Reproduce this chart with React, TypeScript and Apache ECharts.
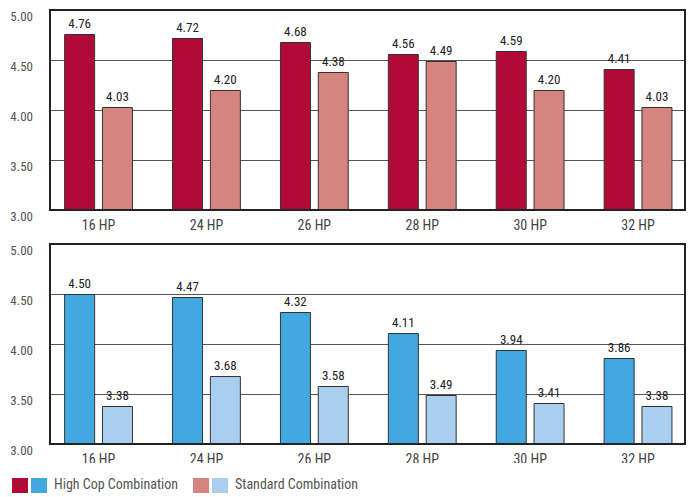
import React, { useEffect, useRef } from "react";
import * as echarts from "echarts";

const categories = ["16 HP", "24 HP", "26 HP", "28 HP", "30 HP", "32 HP"];
const topHighCop = [4.76, 4.72, 4.68, 4.56, 4.59, 4.41];
const topStandard = [4.03, 4.2, 4.38, 4.49, 4.2, 4.03];
const bottomHighCop = [4.5, 4.47, 4.32, 4.11, 3.94, 3.86];
const bottomStandard = [3.38, 3.68, 3.58, 3.49, 3.41, 3.38];
const seriesNames = ["High Cop Combination", "Standard Combination"];

const FONT = "'Roboto Condensed', 'DejaVu Sans Condensed', sans-serif";
const C_RED = "#B10A37";
const C_PINK = "#D6847F";
const C_BLUE = "#41A9DF";
const C_LBLUE = "#A9CEEE";

export default function App() {
  const ref = useRef<HTMLDivElement>(null);
  useEffect(() => {
    if (!ref.current) return;
    const chart = echarts.init(ref.current, null, { renderer: "svg" });
    const tops = [10, 244];
    const grids: any[] = [];
    const xAxes: any[] = [];
    const yAxes: any[] = [];
    tops.forEach((t, i) => {
      grids.push({
        left: 50, top: t, width: 635, height: 200, show: true,
        borderColor: "#222", borderWidth: 2, backgroundColor: "transparent", z: 5,
      });
      grids.push({ left: 44.6, top: t, width: 653, height: 200 });
      xAxes.push({ gridIndex: 2 * i, type: "category", data: categories, show: false });
      xAxes.push({
        gridIndex: 2 * i + 1, type: "category", data: categories,
        axisLine: { show: false }, axisTick: { show: false },
        axisLabel: { color: "#444", fontFamily: FONT, fontSize: 14, margin: 8 },
      });
      yAxes.push({
        gridIndex: 2 * i, type: "value", min: 3, max: 5, interval: 0.5,
        axisLine: { show: false }, axisTick: { show: false },
        axisLabel: {
          color: "#555", fontFamily: FONT, fontSize: 13, margin: 17,
          verticalAlign: "top",
          formatter: (v: number) => v.toFixed(2),
        },
        splitLine: { lineStyle: { color: "#555", width: 1 } },
      });
      yAxes.push({ gridIndex: 2 * i + 1, type: "value", min: 3, max: 5, interval: 0.5, show: false, splitLine: { show: false } });
    });
    const mk = (name: string, data: number[], color: string, axis: number) => ({
      name, type: "bar", data, xAxisIndex: axis, yAxisIndex: axis,
      barWidth: 31, barGap: "22%",
      itemStyle: { color, borderColor: "#333", borderWidth: 1 },
      label: {
        show: true, position: "top", distance: 4, color: "#222",
        fontFamily: FONT, fontSize: 13,
        formatter: (p: any) => Number(p.value).toFixed(2),
      },
      z: 3,
    });
    const legendY = 478;
    chart.setOption({
      animation: false,
      backgroundColor: "#fff",
      grid: grids,
      xAxis: xAxes,
      yAxis: yAxes,
      series: [
        mk(seriesNames[0], topHighCop, C_RED, 1),
        mk(seriesNames[1], topStandard, C_PINK, 1),
        mk(seriesNames[0], bottomHighCop, C_BLUE, 3),
        mk(seriesNames[1], bottomStandard, C_LBLUE, 3),
      ],
      graphic: [
        { type: "rect", left: 40, top: 463, shape: { width: 652, height: 12 }, style: { fill: "#fff" }, z: 100 },
        { type: "rect", left: 12, top: legendY, shape: { width: 16, height: 15 }, style: { fill: C_RED }, z: 101 },
        { type: "rect", left: 31, top: legendY, shape: { width: 16, height: 15 }, style: { fill: C_BLUE }, z: 101 },
        { type: "text", left: 54, top: legendY - 1, style: { text: seriesNames[0], fill: "#555", font: `14px ${FONT}` }, z: 101 },
        { type: "rect", left: 193, top: legendY, shape: { width: 16, height: 15 }, style: { fill: C_PINK }, z: 101 },
        { type: "rect", left: 212, top: legendY, shape: { width: 16, height: 15 }, style: { fill: C_LBLUE }, z: 101 },
        { type: "text", left: 235, top: legendY - 1, style: { text: seriesNames[1], fill: "#555", font: `14px ${FONT}` }, z: 101 },
      ],
    });
    return () => chart.dispose();
  }, []);
  return <div ref={ref} style={{ width: 692, height: 497, position: "absolute", left: 0, top: 0 }} />;
}
